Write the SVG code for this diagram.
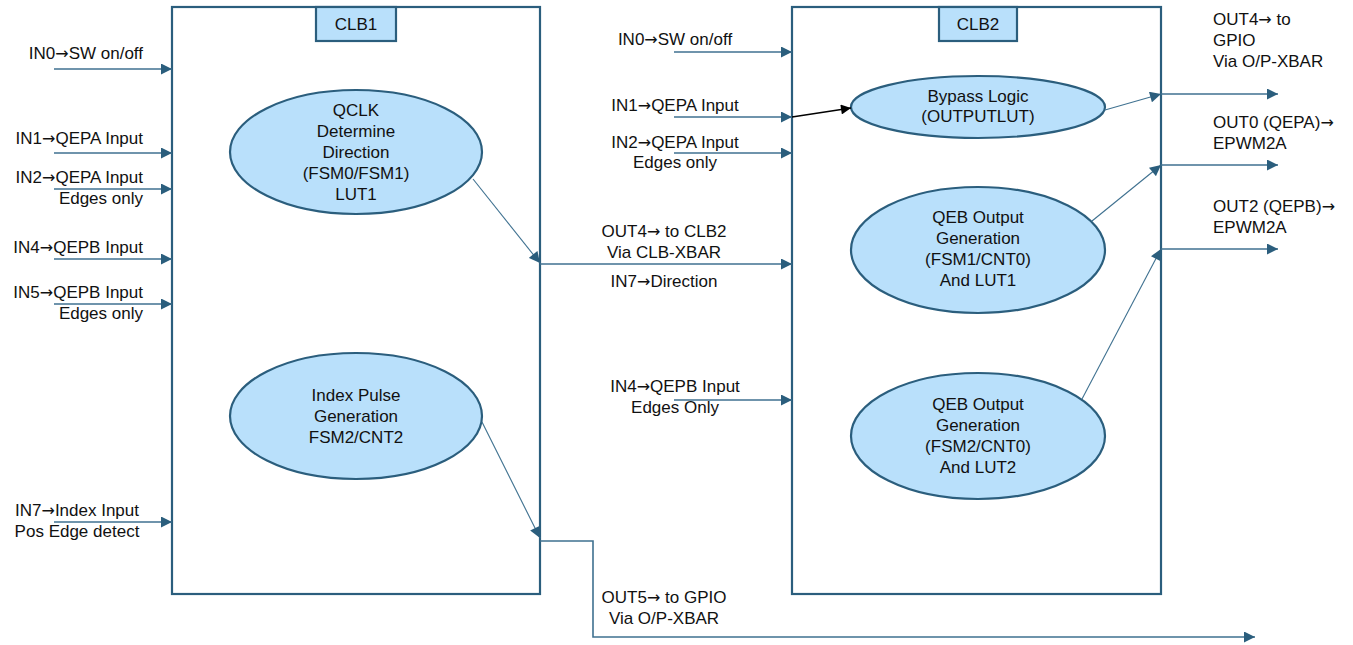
<svg xmlns="http://www.w3.org/2000/svg" width="1353" height="645" viewBox="0 0 1353 645">
  <style>
    .blk { fill: #ffffff; stroke: #2b5e7d; stroke-width: 2.2; }
    .tag { fill: #b9e0fb; stroke: #2b5e7d; stroke-width: 2.2; }
    .fn { fill: #b9e0fb; stroke: #2b5e7d; stroke-width: 2.2; }
    .wire { fill: none; stroke: #3f7190; stroke-width: 1.6; }
    .thin { fill: none; stroke: #3f7190; stroke-width: 1.1; }
    .blackw { fill: none; stroke: #000000; stroke-width: 1.5; }
    text { font-family: "Liberation Sans", Arial, Helvetica, sans-serif; font-size: 17px; fill: #111111; }
    .a { font-family: "DejaVu Sans", sans-serif; font-size: 16px; }
    .c { text-anchor: middle; }
    .r { text-anchor: end; }
  </style>
  <defs>
    <marker id="arr" viewBox="0 0 10 10" refX="10" refY="5" markerWidth="12" markerHeight="11" markerUnits="userSpaceOnUse" orient="auto">
      <path d="M0,0 L10,5 L0,10 z" fill="#2b5e7d"/>
    </marker>
    <marker id="arrB" viewBox="0 0 10 10" refX="10" refY="5" markerWidth="12" markerHeight="10" markerUnits="userSpaceOnUse" orient="auto">
      <path d="M0,0 L10,5 L0,10 z" fill="#000000"/>
    </marker>
  </defs>

  <!-- CLB1 block -->
  <g id="clb1">
    <rect class="blk" x="172" y="7" width="368" height="587"/>
    <rect class="tag" x="316" y="7" width="80" height="34"/>
    <text class="c" x="356" y="30">CLB1</text>
  </g>

  <g id="qclk">
    <ellipse class="fn" cx="356" cy="152" rx="126" ry="62"/>
    <text class="c" x="356" y="116">QCLK</text>
    <text class="c" x="356" y="137">Determine</text>
    <text class="c" x="356" y="158">Direction</text>
    <text class="c" x="356" y="179">(FSM0/FSM1)</text>
    <text class="c" x="356" y="200">LUT1</text>
  </g>

  <g id="index-pulse">
    <ellipse class="fn" cx="356" cy="416" rx="126" ry="63"/>
    <text class="c" x="356" y="401">Index Pulse</text>
    <text class="c" x="356" y="422">Generation</text>
    <text class="c" x="356" y="443">FSM2/CNT2</text>
  </g>

  <!-- CLB2 block -->
  <g id="clb2">
    <rect class="blk" x="792" y="7" width="369" height="587"/>
    <rect class="tag" x="939" y="7" width="78" height="34"/>
    <text class="c" x="978" y="30">CLB2</text>
  </g>

  <g id="bypass">
    <ellipse class="fn" cx="978" cy="107" rx="127" ry="31"/>
    <text class="c" x="978" y="102">Bypass Logic</text>
    <text class="c" x="978" y="122">(OUTPUTLUT)</text>
  </g>

  <g id="qeb1">
    <ellipse class="fn" cx="978" cy="250" rx="127" ry="63"/>
    <text class="c" x="978" y="223">QEB Output</text>
    <text class="c" x="978" y="244">Generation</text>
    <text class="c" x="978" y="265">(FSM1/CNT0)</text>
    <text class="c" x="978" y="286">And LUT1</text>
  </g>

  <g id="qeb2">
    <ellipse class="fn" cx="978" cy="436" rx="127" ry="63"/>
    <text class="c" x="978" y="410">QEB Output</text>
    <text class="c" x="978" y="431">Generation</text>
    <text class="c" x="978" y="452">(FSM2/CNT0)</text>
    <text class="c" x="978" y="473">And LUT2</text>
  </g>

  <!-- connectors -->
  <g id="connectors">
    <!-- CLB1 inputs -->
    <line class="wire" x1="54" y1="69" x2="172" y2="69" marker-end="url(#arr)"/>
    <line class="wire" x1="54" y1="153" x2="172" y2="153" marker-end="url(#arr)"/>
    <line class="wire" x1="54" y1="189" x2="172" y2="189" marker-end="url(#arr)"/>
    <line class="wire" x1="54" y1="259" x2="172" y2="259" marker-end="url(#arr)"/>
    <line class="wire" x1="54" y1="304" x2="172" y2="304" marker-end="url(#arr)"/>
    <line class="wire" x1="54" y1="522" x2="172" y2="522" marker-end="url(#arr)"/>

    <!-- CLB1 internal outputs -->
    <line class="thin" x1="473" y1="179" x2="540" y2="263" marker-end="url(#arr)"/>
    <line class="thin" x1="482" y1="422" x2="540" y2="538" marker-end="url(#arr)"/>

    <!-- CLB1 to CLB2 -->
    <line class="wire" x1="540" y1="264" x2="792" y2="264" marker-end="url(#arr)"/>
    <!-- OUT5 to GPIO -->
    <polyline class="wire" points="540,541 593,541 593,637 1255,637" marker-end="url(#arr)"/>

    <!-- CLB2 inputs -->
    <line class="wire" x1="674" y1="52" x2="792" y2="52" marker-end="url(#arr)"/>
    <line class="wire" x1="674" y1="117" x2="792" y2="117" marker-end="url(#arr)"/>
    <line class="wire" x1="674" y1="153" x2="792" y2="153" marker-end="url(#arr)"/>
    <line class="wire" x1="674" y1="400" x2="792" y2="400" marker-end="url(#arr)"/>

    <!-- bypass path -->
    <line class="blackw" x1="792" y1="117" x2="851" y2="108" marker-end="url(#arrB)"/>

    <!-- CLB2 internal outputs -->
    <line class="thin" x1="1105" y1="110" x2="1161" y2="94" marker-end="url(#arr)"/>
    <line class="thin" x1="1092" y1="221" x2="1161" y2="165" marker-end="url(#arr)"/>
    <line class="thin" x1="1082" y1="399" x2="1161" y2="249" marker-end="url(#arr)"/>

    <!-- CLB2 outputs -->
    <line class="wire" x1="1161" y1="94" x2="1278" y2="94" marker-end="url(#arr)"/>
    <line class="wire" x1="1161" y1="165" x2="1278" y2="165" marker-end="url(#arr)"/>
    <line class="wire" x1="1161" y1="249" x2="1278" y2="249" marker-end="url(#arr)"/>
  </g>

  <!-- signal labels -->
  <g id="labels">
    <text class="r" x="143" y="59">IN0<tspan class="a">→</tspan>SW on/off</text>
    <text class="r" x="143" y="144">IN1<tspan class="a">→</tspan>QEPA Input</text>
    <text class="r" x="143" y="183">IN2<tspan class="a">→</tspan>QEPA Input</text>
    <text class="r" x="143" y="204">Edges only</text>
    <text class="r" x="143" y="253">IN4<tspan class="a">→</tspan>QEPB Input</text>
    <text class="r" x="143" y="298">IN5<tspan class="a">→</tspan>QEPB Input</text>
    <text class="r" x="143" y="319">Edges only</text>
    <text class="c" x="77" y="516">IN7<tspan class="a">→</tspan>Index Input</text>
    <text class="c" x="77" y="537">Pos Edge detect</text>

    <text class="c" x="675" y="45">IN0<tspan class="a">→</tspan>SW on/off</text>
    <text class="c" x="675" y="111">IN1<tspan class="a">→</tspan>QEPA Input</text>
    <text class="c" x="675" y="148">IN2<tspan class="a">→</tspan>QEPA Input</text>
    <text class="c" x="675" y="168">Edges only</text>
    <text class="c" x="664" y="237">OUT4<tspan class="a">→</tspan> to CLB2</text>
    <text class="c" x="664" y="258">Via CLB-XBAR</text>
    <text class="c" x="664" y="287">IN7<tspan class="a">→</tspan>Direction</text>
    <text class="c" x="675" y="392">IN4<tspan class="a">→</tspan>QEPB Input</text>
    <text class="c" x="675" y="413">Edges Only</text>
    <text class="c" x="664" y="603">OUT5<tspan class="a">→</tspan> to GPIO</text>
    <text class="c" x="664" y="624">Via O/P-XBAR</text>

    <text x="1213" y="25">OUT4<tspan class="a">→</tspan> to</text>
    <text x="1213" y="46">GPIO</text>
    <text x="1213" y="67">Via O/P-XBAR</text>
    <text x="1213" y="128">OUT0 (QEPA)<tspan class="a">→</tspan></text>
    <text x="1213" y="149">EPWM2A</text>
    <text x="1213" y="212">OUT2 (QEPB)<tspan class="a">→</tspan></text>
    <text x="1213" y="233">EPWM2A</text>
  </g>
</svg>
